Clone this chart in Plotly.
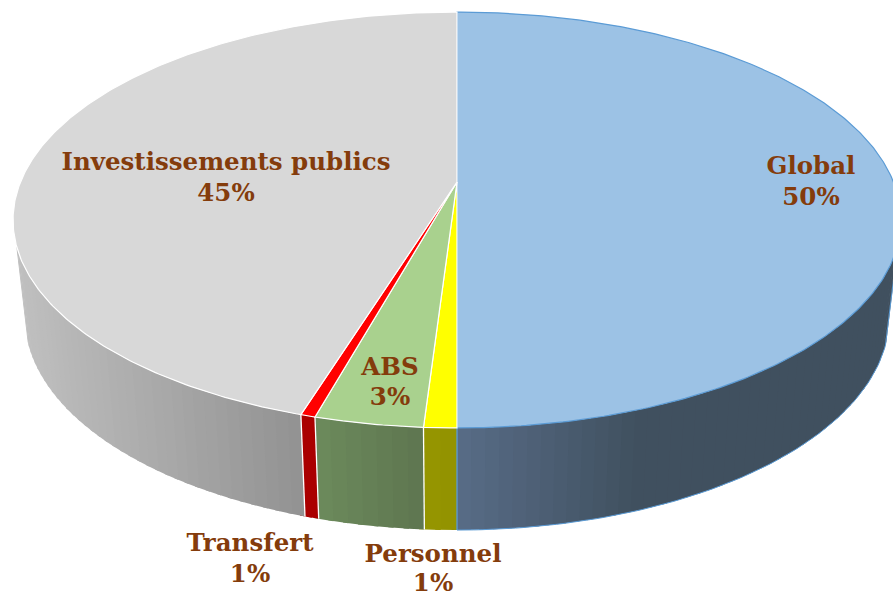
import numpy as np
import plotly.graph_objects as go

# ---- data (clockwise from 12 o'clock, as drawn) ----
categories = ["Global", "Personnel", "ABS", "Transfert", "Investissements publics"]
values = [50.0, 1.0, 3.32, 0.45, 45.23]
pct_labels = ["50%", "1%", "3%", "1%", "45%"]

# ---- style ----
top_colors = ["#9CC2E5", "#FFFF00", "#A9D18E", "#FF0000", "#D8D8D8"]
edge_colors = ["#5B9BD5", "#FFFFFF", "#FFFFFF", "#FFFFFF", "#FFFFFF"]
# wall shading stops: (screen x, colour)
wall_stops = [
    [(457, (88, 108, 134)), (640, (64, 80, 95)), (900, (64, 80, 95))],
    [(423, (150, 150, 0)), (457, (146, 146, 0))],
    [(315, (108, 138, 92)), (423, (94, 118, 80))],
    [(301, (170, 0, 0)), (318, (170, 0, 0))],
    [(16, (192, 192, 192)), (300, (146, 146, 146))],
]
sep_colors = ["#5B9BD5", "#FFFFFF", "#FFFFFF", "#FFFFFF"]
label_xy = [(811, 168, 199), (433, 556, 585), (390, 369, 399), (250, 545, 576), (226, 164, 195)]
TEXT = "#843C0C"

CX, CY, A, B, K = 457, 182, 436.5, 201, 0.1827
CY2, A2, B2 = 278, 425, 206
TH_R, TH_L = np.radians(107), np.radians(253)


def proj(theta, cy, a, b):
    u, v = np.sin(theta), np.cos(theta)
    w = 1 / (1 + K * v)
    return CX + a * u * w, cy - b * v * w


cum = np.concatenate([[0], np.cumsum(values)]) / np.sum(values) * 2 * np.pi
fig = go.Figure()


def poly(x, y, color, line=None, lw=0):
    fig.add_trace(go.Scatter(
        x=np.round(x, 2), y=np.round(y, 2), mode="lines", fill="toself", fillcolor=color,
        line=dict(color=line or color, width=lw),
        hoverinfo="skip", showlegend=False))


def stroke(x, y, color, lw):
    fig.add_trace(go.Scatter(x=np.round(x, 2), y=np.round(y, 2), mode="lines",
                             line=dict(color=color, width=lw),
                             hoverinfo="skip", showlegend=False))


# side walls
OVER = np.radians(0.6)
for i in range(len(values)):
    t0, t1 = max(cum[i], TH_R), min(cum[i + 1], TH_L)
    if t1 <= t0:
        continue
    n = max(2, int((t1 - t0) / np.radians(1.5)))
    edges = np.linspace(t0, t1, n + 1)
    xs_s = [s[0] for s in wall_stops[i]]
    for a0, a1 in zip(edges[:-1], edges[1:]):
        tt = np.linspace(a0, min(a1 + OVER, TH_L), 4)
        xt, yt = proj(tt, CY, A, B)
        xb, yb = proj(tt, CY2, A2, B2)
        rgb = [np.interp(xt.mean(), xs_s, [s[1][c] for s in wall_stops[i]]) for c in range(3)]
        poly(np.r_[xt, xb[::-1], xt[0]], np.r_[yt, yb[::-1], yt[0]],
             "rgb(%d,%d,%d)" % tuple(rgb))

# wall separators and the outline of the blue wall
for bound, col in zip(cum[1:5], sep_colors):
    xa, ya = proj(np.array([bound]), CY, A, B)
    xc, yc = proj(np.array([bound]), CY2, A2, B2)
    stroke(np.r_[xa, xc], np.r_[ya, yc], col, 1.3)
tt = np.linspace(TH_R, cum[1], 80)
xb, yb = proj(tt, CY2, A2, B2)
xa, ya = proj(np.array([TH_R]), CY, A, B)
stroke(np.r_[xa, xb], np.r_[ya, yb], "#5B9BD5", 1.0)

# top surface
for i in range(len(values)):
    tt = np.linspace(cum[i], cum[i + 1], max(4, int((cum[i + 1] - cum[i]) / 0.01)))
    x, y = proj(tt, CY, A, B)
    poly(np.r_[CX, x, CX], np.r_[CY, y, CY], top_colors[i], edge_colors[i], 1.2)

# labels
for name, pct, (lx, y1, y2) in zip(categories, pct_labels, label_xy):
    fig.add_trace(go.Scatter(x=[lx, lx], y=[y1, y2], mode="text", text=[name, pct],
                             textposition="middle center", cliponaxis=False,
                             textfont=dict(family="DejaVu Serif", size=24.5, color=TEXT, weight="bold"),
                             hoverinfo="skip", showlegend=False))

fig.update_layout(
    width=893, height=596, margin=dict(l=0, r=0, t=0, b=0),
    paper_bgcolor="white", plot_bgcolor="white", showlegend=False,
    xaxis=dict(range=[0, 893], visible=False, fixedrange=True),
    yaxis=dict(range=[596, 0], visible=False, fixedrange=True),
)
fig.write_html("out.html", config={"displayModeBar": False},
               post_script="document.body.style.margin='0';document.body.style.overflow='hidden';")
